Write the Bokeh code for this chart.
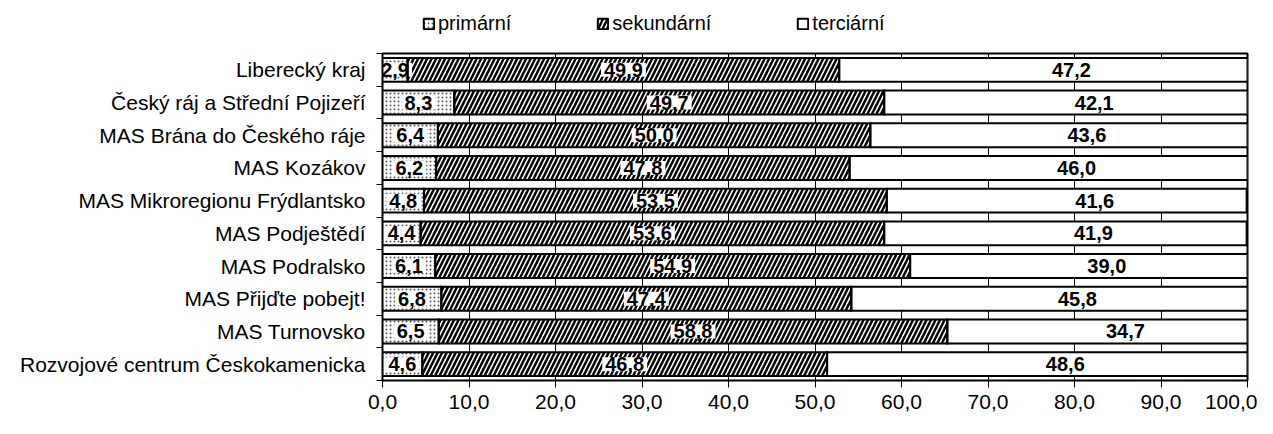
import numpy as np
from bokeh.plotting import figure
from bokeh.layouts import column
from bokeh.core.properties import value
from bokeh.models import (Range1d, FixedTicker, Label, Legend, LegendItem, ColumnDataSource)
from bokeh.embed import file_html
from bokeh.resources import INLINE

categories = ["Liberecký kraj", "Český ráj a Střední Pojizeří", "MAS Brána do Českého ráje",
              "MAS Kozákov", "MAS Mikroregionu Frýdlantsko", "MAS Podještědí", "MAS Podralsko",
              "MAS Přijďte pobejt!", "MAS Turnovsko", "Rozvojové centrum Českokamenicka"]
primarni = [2.9, 8.3, 6.4, 6.2, 4.8, 4.4, 6.1, 6.8, 6.5, 4.6]
sekundarni = [49.9, 49.7, 50.0, 47.8, 53.5, 53.6, 54.9, 47.4, 58.8, 46.8]
terciarni = [47.2, 42.1, 43.6, 46.0, 41.6, 41.9, 39.0, 45.8, 34.7, 48.6]
series_names = ["primární", "sekundární", "terciární"]
x_ticks = [0, 10, 20, 30, 40, 50, 60, 70, 80, 90, 100]
x_tick_labels = ["0,0", "10,0", "20,0", "30,0", "40,0", "50,0", "60,0", "70,0", "80,0", "90,0", "100,0"]
x_title = "%"

FONT = "Liberation Sans"
n = len(categories)
ypos = [n - 0.5 - i for i in range(n)]
fmt = lambda v: f"{v:.1f}".replace(".", ",")

p_end = primarni
s_end = [a + b for a, b in zip(primarni, sekundarni)]
t_end = [a + b for a, b in zip(s_end, terciarni)]

src = ColumnDataSource(dict(
    y=ypos,
    zero=[0] * n,
    p_end=p_end, s_end=s_end, t_end=t_end,
    p_mid=[v / 2 for v in primarni],
    s_mid=[a + b / 2 for a, b in zip(p_end, sekundarni)],
    t_mid=[a + b / 2 for a, b in zip(s_end, terciarni)],
    p_lab=[fmt(v) for v in primarni],
    s_lab=[fmt(v) for v in sekundarni],
    t_lab=[fmt(v) for v in terciarni],
))

styles = [
    dict(fill_color="white", hatch_pattern="dot", hatch_scale=4, hatch_weight=1, hatch_color="#555555"),
    dict(fill_color="white", hatch_pattern="right_diagonal_line", hatch_scale=9, hatch_weight=2.5,
         hatch_color="black"),
    dict(fill_color="white"),
]

LEG_H = 51
p = figure(width=1257, height=434 - LEG_H, x_range=Range1d(0, 100), y_range=Range1d(0, n),
           output_backend="svg", toolbar_location=None,
           min_border_left=382, min_border_right=10, min_border_top=2, min_border_bottom=54)

bh = 0.73
segs = [("zero", "p_end"), ("p_end", "s_end"), ("s_end", "t_end")]
# fills
for (l, r), st in zip(segs, styles):
    p.hbar(y="y", left=l, right=r, height=bh, source=src, line_color=None, **st)

# value labels on white boxes
lab_kw = dict(y="y", source=src, text_font=value(FONT), text_font_style="bold",
              text_font_size="20px", text_align="center", text_baseline="middle",
              text_color="black", background_fill_color="white", padding=(3, 0))
p.text(x="p_mid", text="p_lab", **lab_kw)
p.text(x="s_mid", text="s_lab", **lab_kw)
p.text(x="t_mid", text="t_lab", x_offset=28, **lab_kw)

# bar outlines on top
for l, r in segs:
    p.hbar(y="y", left=l, right=r, height=bh, source=src, fill_color=None,
           line_color="black", line_width=2, line_join="miter")

# axes
xa = p.xaxis[0]
xa.ticker = FixedTicker(ticks=x_ticks)
xa.major_label_overrides = {t: l for t, l in zip(x_ticks, x_tick_labels)}
xa.major_tick_out = 7
xa.major_tick_in = 0
xa.minor_tick_out = 0
xa.minor_tick_in = 0
xa.major_tick_line_color = "black"
xa.axis_line_color = "black"
xa.major_label_text_font = FONT
xa.major_label_text_font_size = "21px"
xa.major_label_text_color = "black"
xa.major_label_standoff = 7

ya = p.yaxis[0]
ya.ticker = FixedTicker(ticks=ypos, minor_ticks=list(range(n + 1)))
ya.major_label_overrides = {y: c for y, c in zip(ypos, categories)}
ya.major_tick_out = 0
ya.major_tick_in = 0
ya.minor_tick_out = 6
ya.minor_tick_in = 0
ya.minor_tick_line_color = "black"
ya.axis_line_color = "black"
ya.major_label_text_font = FONT
ya.major_label_text_font_size = "21px"
ya.major_label_text_color = "black"
ya.major_label_standoff = 11

p.xgrid.ticker = FixedTicker(ticks=x_ticks)
p.xgrid.grid_line_color = "black"
p.xgrid.grid_line_width = 1
p.ygrid.grid_line_color = None

p.outline_line_color = "black"
p.outline_line_width = 2
p.background_fill_color = "white"
p.border_fill_color = "white"

p.add_layout(Label(x=54.3, y=-43, x_units="data", y_units="screen", text=x_title,
                   text_font=FONT, text_font_size="21px", text_align="center",
                   text_baseline="top", text_color="black"))

# legend strip above the chart (legend-only renderers hold no drawable data)
lg = figure(width=1257, height=LEG_H, x_range=Range1d(0, 1), y_range=Range1d(0, 1),
            output_backend="svg", toolbar_location=None, x_axis_type=None, y_axis_type=None,
            min_border=0)
lg.outline_line_color = None
lg.grid.grid_line_color = None
dummy = ColumnDataSource(dict(y=np.array([np.nan]), l=np.array([np.nan]), r=np.array([np.nan])))
lr = [lg.hbar(y="y", left="l", right="r", height=1, source=dummy, line_color="black",
              line_width=2, **st) for st in styles]
legend = Legend(items=[LegendItem(label=nm, renderers=[r]) for nm, r in zip(series_names, lr)],
                orientation="horizontal", spacing=85, glyph_width=13, glyph_height=13,
                label_standoff=3, label_text_font=FONT, label_text_font_size="20px",
                label_text_color="black", padding=0, margin=0, border_line_color=None,
                background_fill_alpha=0, location=(40, 16))
lg.add_layout(legend, "center")

layout = column(lg, p, spacing=0)
open("out.html", "w").write(file_html(layout, INLINE))
